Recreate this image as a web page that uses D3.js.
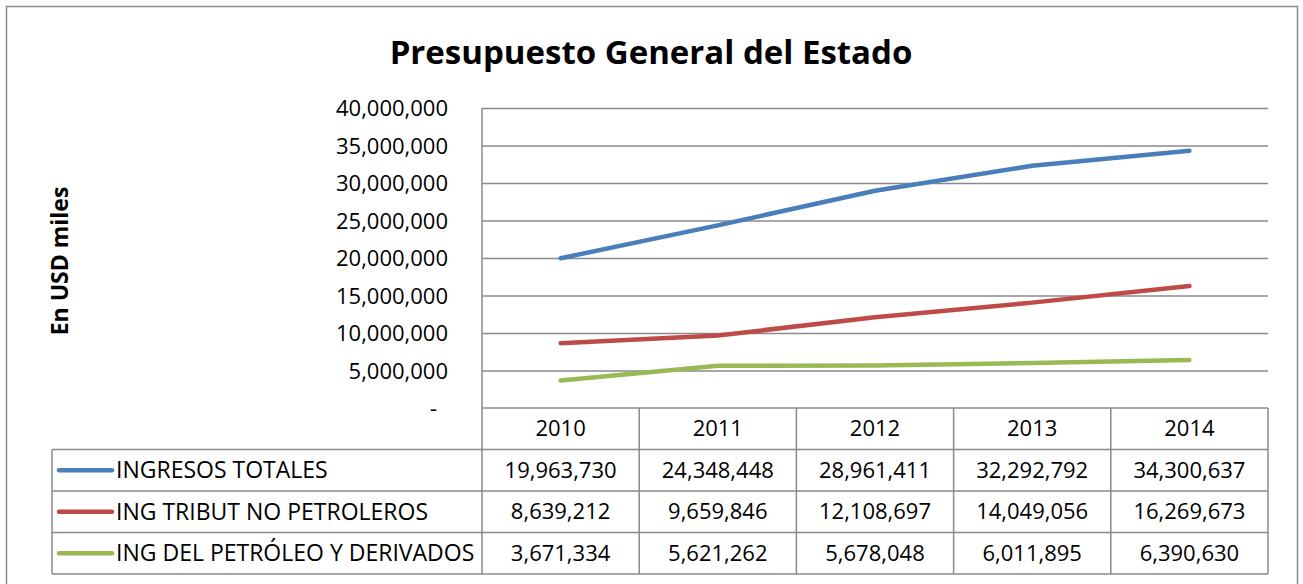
<!DOCTYPE html>
<html lang="es">
<head>
<meta charset="utf-8">
<title>Presupuesto General del Estado</title>
<script src="https://d3js.org/d3.v7.min.js"></script>
<style>
  body { margin: 0; background: #fff; }
  svg text { font-family: "Open Sans", "Noto Sans", sans-serif; fill: #000; }
</style>
</head>
<body>
<div id="chart"></div>
<script>
// data
var years = ["2010", "2011", "2012", "2013", "2014"];
var seriesNames = ["INGRESOS TOTALES", "ING TRIBUT NO PETROLEROS", "ING DEL PETRÓLEO Y DERIVADOS"];
var ingresosTotales = [19963730, 24348448, 28961411, 32292792, 34300637];
var ingTributNoPetroleros = [8639212, 9659846, 12108697, 14049056, 16269673];
var ingPetroleo = [3671334, 5621262, 5678048, 6011895, 6390630];
var yTicks = [0, 5000000, 10000000, 15000000, 20000000, 25000000, 30000000, 35000000, 40000000];
var colors = ["#4a7ebb", "#be4b48", "#98b954"];

var series = [ingresosTotales, ingTributNoPetroleros, ingPetroleo].map(function(vals, i) {
  return { name: seriesNames[i], color: colors[i], values: vals };
});

var W = 1303, H = 584;
var plot = { left: 482, right: 1268, top: 108, bottom: 408 };
var rowH = 41.5;
var tableLeft = 52;
var gridColor = "#8a8a8a";

var svg = d3.select("#chart").append("svg")
  .attr("width", W).attr("height", H);

// outer chart border
svg.append("rect")
  .attr("x", 6.5).attr("y", 6.5)
  .attr("width", 1291).attr("height", 600)
  .attr("fill", "none").attr("stroke", gridColor).attr("stroke-width", 1.5);

var x = d3.scaleBand().domain(years).range([plot.left, plot.right]);
var y = d3.scaleLinear().domain([0, 40000000]).range([plot.bottom, plot.top]);

// gridlines
svg.append("g")
  .attr("transform", "translate(" + plot.left + ",0)")
  .call(d3.axisLeft(y).tickValues(yTicks.slice(1)).tickSize(-(plot.right - plot.left)).tickFormat(""))
  .call(function(g) { g.select(".domain").remove(); })
  .selectAll("line").attr("stroke", gridColor).attr("stroke-width", 1.5);

// y tick labels
var fmt = d3.format(",");
var yAxis = svg.append("g")
  .attr("transform", "translate(" + plot.left + ",0)")
  .call(d3.axisLeft(y).tickValues(yTicks).tickSize(0).tickPadding(34)
    .tickFormat(function(d) { return d === 0 ? "-" : fmt(d); }));
yAxis.select(".domain").remove();
yAxis.selectAll("text")
  .style("font-size", "22px")
  .attr("dy", "0.35em")
  .attr("dx", function(d) { return d === 0 ? -11 : 0; });

// y axis title
svg.append("text")
  .attr("transform", "translate(68,261) rotate(-90)")
  .attr("text-anchor", "middle")
  .style("font-size", "23px").style("font-weight", "bold")
  .text("En USD miles");

// chart title
svg.append("text")
  .attr("x", 651).attr("y", 64)
  .attr("text-anchor", "middle")
  .style("font-size", "33px").style("font-weight", "bold")
  .text("Presupuesto General del Estado");

// lines
var line = d3.line()
  .x(function(d, i) { return x(years[i]) + x.bandwidth() / 2; })
  .y(function(d) { return y(d); });

svg.selectAll("path.series")
  .data(series)
  .enter().append("path")
  .attr("class", "series")
  .attr("d", function(s) { return line(s.values); })
  .attr("fill", "none")
  .attr("stroke", function(s) { return s.color; })
  .attr("stroke-width", 4.5)
  .attr("stroke-linecap", "round")
  .attr("stroke-linejoin", "round");

// data table
var table = svg.append("g");
var rowTop = function(r) { return plot.bottom + r * rowH; };

// header row: years
table.selectAll("text.year")
  .data(years)
  .enter().append("text")
  .attr("class", "year")
  .attr("x", function(d) { return x(d) + x.bandwidth() / 2; })
  .attr("y", rowTop(0) + rowH / 2)
  .attr("dy", "0.35em")
  .attr("text-anchor", "middle")
  .style("font-size", "22px")
  .text(function(d) { return d; });

// series rows
var rows = table.selectAll("g.row")
  .data(series)
  .enter().append("g")
  .attr("class", "row")
  .attr("transform", function(s, i) { return "translate(0," + rowTop(i + 1) + ")"; });

rows.append("line")
  .attr("x1", 59).attr("x2", 112)
  .attr("y1", rowH / 2).attr("y2", rowH / 2)
  .attr("stroke", function(s) { return s.color; })
  .attr("stroke-width", 4.5)
  .attr("stroke-linecap", "round");

rows.append("text")
  .attr("x", 116).attr("y", rowH / 2).attr("dy", "0.35em")
  .style("font-size", "23px")
  .text(function(s) { return s.name; });

rows.selectAll("text.val")
  .data(function(s) { return s.values; })
  .enter().append("text")
  .attr("class", "val")
  .attr("x", function(d, i) { return x(years[i]) + x.bandwidth() / 2; })
  .attr("y", rowH / 2).attr("dy", "0.35em")
  .attr("text-anchor", "middle")
  .style("font-size", "22px")
  .text(function(d) { return fmt(d); });

// table grid lines
var hLines = [0, 1, 2, 3, 4];
table.selectAll("line.h")
  .data(hLines)
  .enter().append("line")
  .attr("x1", function(r) { return r === 0 ? plot.left : tableLeft; })
  .attr("x2", plot.right)
  .attr("y1", function(r) { return rowTop(r); })
  .attr("y2", function(r) { return rowTop(r); })
  .attr("stroke", gridColor).attr("stroke-width", 1.5);

var vLines = years.map(function(d) { return x(d); }).concat([plot.right]);
table.selectAll("line.v")
  .data(vLines)
  .enter().append("line")
  .attr("x1", function(d) { return d; }).attr("x2", function(d) { return d; })
  .attr("y1", function(d, i) { return i === 0 ? plot.top : rowTop(0); })
  .attr("y2", rowTop(4))
  .attr("stroke", gridColor).attr("stroke-width", 1.5);

table.append("line")
  .attr("x1", tableLeft).attr("x2", tableLeft)
  .attr("y1", rowTop(1)).attr("y2", rowTop(4))
  .attr("stroke", gridColor).attr("stroke-width", 1.5);
</script>
</body>
</html>
